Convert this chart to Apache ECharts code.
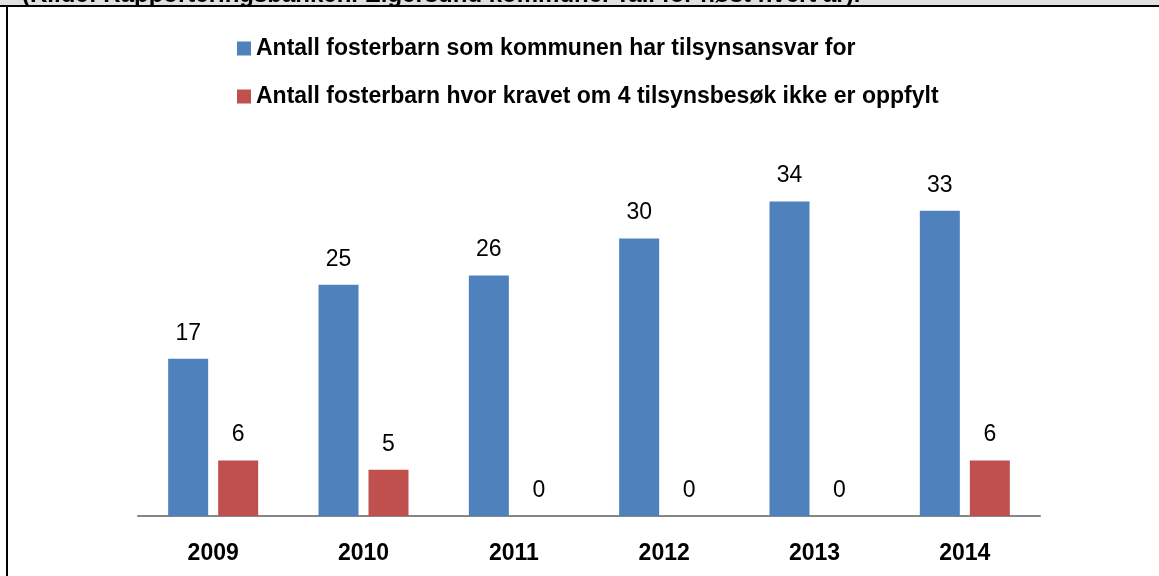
<!DOCTYPE html>
<html>
<head>
<meta charset="utf-8">
<script src="https://cdn.jsdelivr.net/npm/echarts@6/dist/echarts.min.js"></script>
<style>
html,body{margin:0;padding:0;background:#fff;}
#c{width:1159px;height:576px;}
</style>
</head>
<body>
<div id="c"></div>
<script>
const categories = ['2009', '2010', '2011', '2012', '2013', '2014'];
const seriesNames = [
  'Antall fosterbarn som kommunen har tilsynsansvar for',
  'Antall fosterbarn hvor kravet om 4 tilsynsbesøk ikke er oppfylt'
];
const totalValues = [17, 25, 26, 30, 34, 33];
const unmetValues = [6, 5, 0, 0, 0, 6];
const headerText = '(Kilde: Rapporteringsbanken. Eigersund kommune. Tall for høst hvert år).';

const FONT = '"Liberation Sans", "DejaVu Sans", sans-serif';
const chart = echarts.init(document.getElementById('c'), null, {renderer: 'canvas'});
chart.setOption({
  animation: false,
  backgroundColor: '#ffffff',
  graphic: [
    {type: 'rect', left: 0, top: 0, shape: {width: 1159, height: 6}, style: {fill: '#e0e0e0'}, z: 1},
    {type: 'text', x: 22, y: 7, style: {text: headerText, font: 'bold 24px ' + FONT, fill: '#000', textVerticalAlign: 'bottom'}, z: 2},
    {type: 'rect', left: 0, top: 5, shape: {width: 1159, height: 2}, style: {fill: '#000'}, z: 3},
    {type: 'rect', left: 6, top: 5, shape: {width: 2, height: 571}, style: {fill: '#000'}, z: 3}
  ],
  legend: {
    orient: 'vertical',
    left: 237,
    top: 37,
    padding: 0,
    itemWidth: 14,
    itemHeight: 14,
    itemGap: 25,
    icon: 'rect',
    textStyle: {fontFamily: FONT, fontWeight: 'bold', fontSize: 23, color: '#000'},
    data: seriesNames
  },
  grid: {left: 138, right: 119, top: 146, bottom: 60, containLabel: false},
  xAxis: {
    type: 'category',
    data: categories,
    axisLine: {lineStyle: {color: '#868686', width: 2}},
    axisTick: {show: false},
    axisLabel: {fontFamily: FONT, fontWeight: 'bold', fontSize: 23, color: '#000', margin: 26}
  },
  yAxis: {
    type: 'value', min: 0, max: 40, show: false,
    splitLine: {show: false}
  },
  series: [
    {
      name: seriesNames[0], type: 'bar', data: totalValues,
      barWidth: 40, barGap: '25%',
      itemStyle: {color: '#4F81BD'},
      label: {show: true, position: 'top', distance: 14, fontFamily: FONT, fontSize: 23, color: '#000'}
    },
    {
      name: seriesNames[1], type: 'bar', data: unmetValues,
      barWidth: 40,
      itemStyle: {color: '#C0504D'},
      label: {show: true, position: 'top', distance: 14, fontFamily: FONT, fontSize: 23, color: '#000'}
    }
  ]
});
</script>
</body>
</html>
